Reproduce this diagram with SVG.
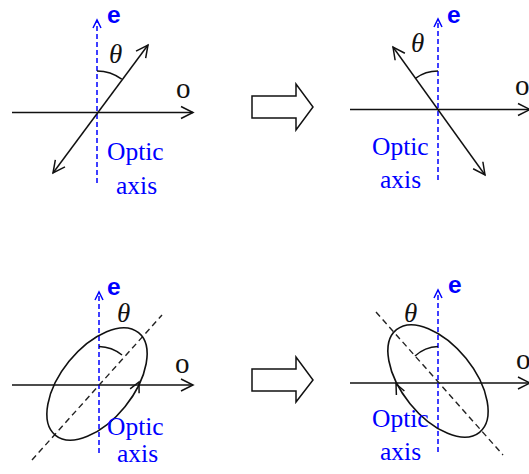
<svg xmlns="http://www.w3.org/2000/svg" width="529" height="474" viewBox="0 0 529 474">
<style>
.ln{stroke:#111;stroke-width:1.5;fill:none}
.ax{stroke:#0000ff;stroke-width:1.5;fill:none;stroke-dasharray:5,3}
.dd{stroke:#222;stroke-width:1.4;fill:none;stroke-dasharray:6,4}
.el{stroke:#111;stroke-width:1.6;fill:none}
.bl{stroke:#111;stroke-width:1.5;fill:#fff;stroke-linejoin:miter}
.e{font-family:"Liberation Sans",Arial,sans-serif;font-weight:bold;font-size:24.5px;fill:#0000ff}
.t{font-family:"Liberation Serif","Times New Roman",serif;font-style:italic;font-size:27px;fill:#111}
.o{font-family:"Liberation Serif","Times New Roman",serif;font-size:29px;fill:#111}
.b{font-family:"Liberation Serif","Times New Roman",serif;font-size:25.5px;fill:#0000ff}
</style>
<defs>
<marker id="ah" markerUnits="userSpaceOnUse" markerWidth="14" markerHeight="14" refX="12" refY="6" orient="auto-start-reverse" overflow="visible">
<path d="M0,0 L12,6 L0,12" fill="none" stroke="#111" stroke-width="1.5"/>
</marker>
<marker id="bh" markerUnits="userSpaceOnUse" markerWidth="10" markerHeight="10" refX="8" refY="4" orient="auto" overflow="visible">
<path d="M0,0 L8,4 L0,8" fill="none" stroke="#0000ff" stroke-width="1.5" stroke-dasharray="none"/>
</marker>
</defs>

<g id="connectors">
<!-- panel 1 -->
<path class="ln" d="M12,112.5 H193" marker-end="url(#ah)"/>
<path class="ax" d="M97,183 V20" marker-end="url(#bh)"/>
<path class="ln" d="M53,173 L148,45" marker-start="url(#ah)" marker-end="url(#ah)"/>
<path class="ln" d="M97,71 A41.5,41.5 0 0 1 121.7,79.2"/>
<!-- panel 2 -->
<path class="ln" d="M350,109.5 H530" marker-end="url(#ah)"/>
<path class="ax" d="M438,180 V19" marker-end="url(#bh)"/>
<path class="ln" d="M393,47 L485,175" marker-start="url(#ah)" marker-end="url(#ah)"/>
<path class="ln" d="M438,71 A38.5,38.5 0 0 0 415.4,78.3"/>
<!-- panel 3 -->
<path class="ln" d="M12,385 H193" marker-end="url(#ah)"/>
<path class="ax" d="M99,453 V292" marker-end="url(#bh)"/>
<path class="dd" d="M32,460 L162,315"/>
<ellipse class="el" cx="97" cy="384" rx="66" ry="36" transform="rotate(-51 97 384)"/>
<path class="ln" d="M130.1,388.8 L139,382 L139.1,393.2"/>
<path class="ln" d="M99,346.5 A38,38 0 0 1 122,355"/>
<!-- panel 4 -->
<path class="ln" d="M350,383 H530" marker-end="url(#ah)"/>
<path class="ax" d="M438,452 V290" marker-end="url(#bh)"/>
<path class="dd" d="M376,312 L503,455"/>
<ellipse class="el" cx="438" cy="381" rx="66" ry="36" transform="rotate(51 438 381)"/>
<path class="ln" d="M404.4,391 L396,384 L396.4,395"/>
<path class="ln" d="M438,346.5 A36,36 0 0 0 415,356"/>
</g>

<g id="transform-arrow-top">
<polygon class="bl" points="252,96 296,96 296,84 313,107 296,130 296,118 252,118"/>
</g>
<g id="transform-arrow-bottom">
<polygon class="bl" points="252,369 296,369 296,357 313,380 296,402 296,391 252,391"/>
</g>

<g id="labels-1">
<text class="e" x="107" y="23">e</text>
<text class="t" x="109" y="63">θ</text>
<text class="o" x="176" y="98">o</text>
<text class="b" x="107" y="160">Optic</text>
<text class="b" x="116" y="194">axis</text>
</g>
<g id="labels-2">
<text class="e" x="447" y="22.5">e</text>
<text class="t" x="411" y="52">θ</text>
<text class="o" x="515" y="95">o</text>
<text class="b" x="372" y="155">Optic</text>
<text class="b" x="380" y="188">axis</text>
</g>
<g id="labels-3">
<text class="e" x="107" y="295">e</text>
<text class="t" x="117" y="322">θ</text>
<text class="o" x="175" y="373">o</text>
<text class="b" x="107" y="435">Optic</text>
<text class="b" x="117" y="462">axis</text>
</g>
<g id="labels-4">
<text class="e" x="448" y="293">e</text>
<text class="t" x="404" y="322">θ</text>
<text class="o" x="516" y="369">o</text>
<text class="b" x="372" y="427">Optic</text>
<text class="b" x="380" y="460">axis</text>
</g>
</svg>
